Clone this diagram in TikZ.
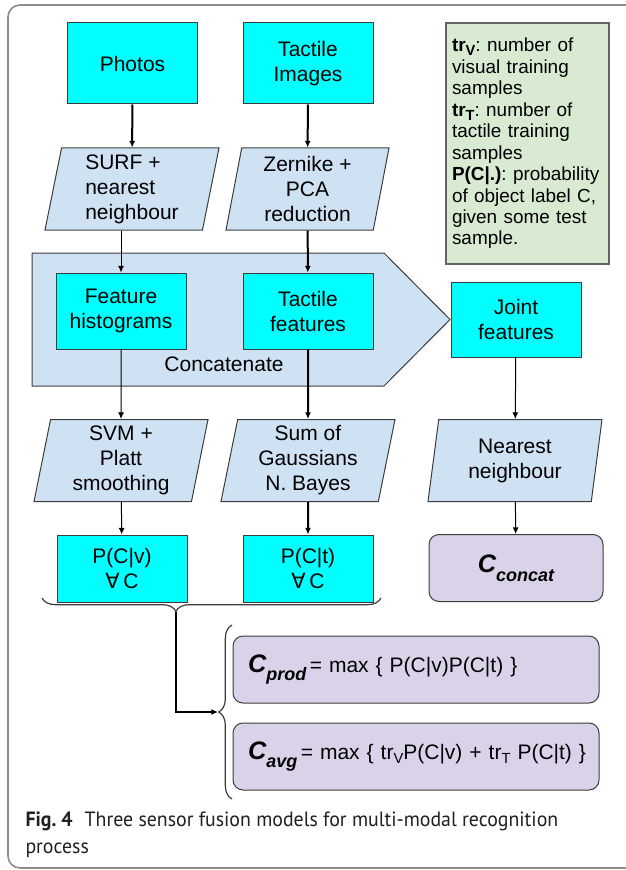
\documentclass[tikz,border=0pt]{standalone}
\usepackage{fontspec}
\setmainfont{Liberation Sans}
\newfontfamily\capfont[FakeStretch=0.96]{PT Sans}
\newfontfamily\symfont{DejaVu Sans}
\usetikzlibrary{shapes.geometric,arrows.meta,decorations.pathreplacing}
\frenchspacing

\definecolor{boxcyan}{RGB}{0,255,255}
\definecolor{stepblue}{RGB}{207,226,243}
\definecolor{notegreen}{RGB}{217,234,211}
\definecolor{outlilac}{RGB}{217,210,233}
\definecolor{edgegray}{RGB}{60,60,60}
\definecolor{framegray}{RGB}{140,140,140}
\definecolor{captext}{RGB}{35,31,32}

\newcommand{\boxfont}{\fontsize{15.75pt}{18.75pt}\selectfont}
\newcommand{\bigC}{{\fontsize{19pt}{19pt}\selectfont\bfseries\itshape C}}
\newcommand{\lowsub}[1]{\raisebox{-6.5pt}{\fontsize{13.5pt}{13.5pt}\selectfont\bfseries\itshape #1}}
\newcommand{\trsub}[1]{\raisebox{-3pt}{\fontsize{11pt}{11pt}\selectfont #1}}

\tikzset{every picture/.style={line width=0.75pt}}
\tikzset{
  databox/.style={draw=edgegray, fill=boxcyan, minimum width=97.5pt, align=center, font=\boxfont, inner sep=2pt},
  procbox/.style={trapezium, trapezium left angle=77, trapezium right angle=103, trapezium stretches body,
    draw=edgegray, fill=stepblue, minimum width=130.5pt, minimum height=61.5pt, align=center, font=\boxfont, inner sep=1pt},
  resbox/.style={draw=edgegray, fill=outlilac, rounded corners=7.5pt, minimum height=50.25pt, font=\boxfont},
  formbox/.style={resbox, minimum width=274.5pt, text width=252pt, inner xsep=11.25pt, align=left},
  legendbox/.style={draw=edgegray!80, fill=notegreen, line width=1pt, minimum height=180.75pt, text width=113.25pt,
    inner xsep=4.5pt, align=left, font=\fontsize{14.2pt}{16.1pt}\selectfont},
  thinarr/.style={-{Latex[length=5pt,width=4.5pt]}, line width=0.75pt},
  thickarr/.style={-{Latex[length=5pt,width=4.5pt]}, line width=1.5pt},
  groupbrace/.style={decorate, draw=edgegray, line width=0.9pt}
}

\begin{document}
\begin{tikzpicture}[x=0.75pt,y=0.75pt,yscale=-1,xscale=1]
\useasboundingbox (0,0) rectangle (625,870);

%Rounded Rect: frame
\draw [framegray, line width=1.2pt, rounded corners=9pt] (8,5) rectangle (645,868);

%Shape: Concatenate arrow
\draw [draw=edgegray, fill=stepblue] (32,253) -- (384,253) -- (450,319.5) -- (384,386) -- (32,386) -- cycle;
\node [font=\boxfont] (concatlbl) at (224,364) {Concatenate};

%Inputs
\node [databox, minimum height=60.75pt] (photos) at (132.5,63.5) {Photos};
\node [databox, minimum height=60.75pt] (tactimg) at (308,63.5) {Tactile\\Images};
\node [legendbox] (legend) at (527.5,143.5) {\mbox{\textbf{tr\trsub{V}}: number of}\\visual training\\samples\\\mbox{\textbf{tr\trsub{T}}: number of}\\tactile training\\samples\\\mbox{\textbf{P(C|.)}: probability}\\\mbox{of object label C,}\\given some test\\sample.};

%Feature extraction
\node [procbox, align=left] (surf) at (132,189) {SURF +\\nearest\\neighbour};
\node [procbox, minimum width=122.25pt] (zern) at (307.5,189) {Zernike +\\PCA\\reduction};

%Features
\node [databox, minimum height=57pt] (feat) at (121,311) {Feature\\histograms};
\node [databox, minimum height=57pt] (tactfeat) at (308,311) {Tactile\\features};
\node [databox, minimum height=56.25pt] (joint) at (516,319.5) {Joint\\features};

%Classifiers
\node [procbox] (svm) at (121,460.5) {SVM +\\Platt\\smoothing};
\node [procbox] (sumg) at (308,460.5) {Sum of\\Gaussians\\N. Bayes};
\node [procbox] (nearest) at (515,460.5) {Nearest\\neighbour};

%Outputs
\node [databox, minimum height=50.25pt] (pcv) at (122,568.5) {P(C|v)\\{\symfont ∀}\,C};
\node [databox, minimum height=50.25pt] (pct) at (308,568.5) {P(C|t)\\{\symfont ∀}\,C};
\node [resbox, minimum width=130.5pt] (cconcat) at (516,568) {\bigC\lowsub{concat}};
\node [formbox] (cprod) at (416,669.5) {\mbox{\bigC\lowsub{prod}\,= max \{ P(C|v)P(C|t) \}}};
\node [formbox] (cavg) at (416,756.5) {\mbox{\bigC\lowsub{avg}\,= max \{ tr\trsub{V}P(C|v) + tr\trsub{T} P(C|t) \}}};

%Connectors
\draw [thickarr] (photos) -- (surf);
\draw [thickarr] (tactimg) -- (zern);
\draw [thinarr] (feat.north |- surf.south) -- (feat);
\draw [thickarr] (zern) -- (tactfeat);
\draw [thinarr] (feat) -- (svm);
\draw [thickarr] (tactfeat) -- (sumg);
\draw [thinarr] (joint) -- (nearest);
\draw [thinarr] (svm) -- (pcv);
\draw [thickarr] (sumg) -- (pct);
\draw [thinarr] (nearest) -- (cconcat);

%Braces
\draw [groupbrace, decoration={brace, mirror, amplitude=10pt, aspect=0.395}] (42,598) -- (381,598);
\draw [groupbrace, decoration={brace, amplitude=10pt, aspect=0.5}] (232,799) -- (232,625);
\coordinate (fusetip) at (176,612);
\coordinate (gatetip) at (218,712);
\draw [thickarr] (fusetip) |- (gatetip);

%Caption
\node [anchor=west, align=left, inner sep=0pt, text=captext, font=\capfont\fontsize{15.5pt}{20.25pt}\selectfont] (caption) at (25,834.5) {\textbf{Fig. 4}\hspace{5pt} Three sensor fusion models for multi-modal recognition\\process};

\end{tikzpicture}
\end{document}
